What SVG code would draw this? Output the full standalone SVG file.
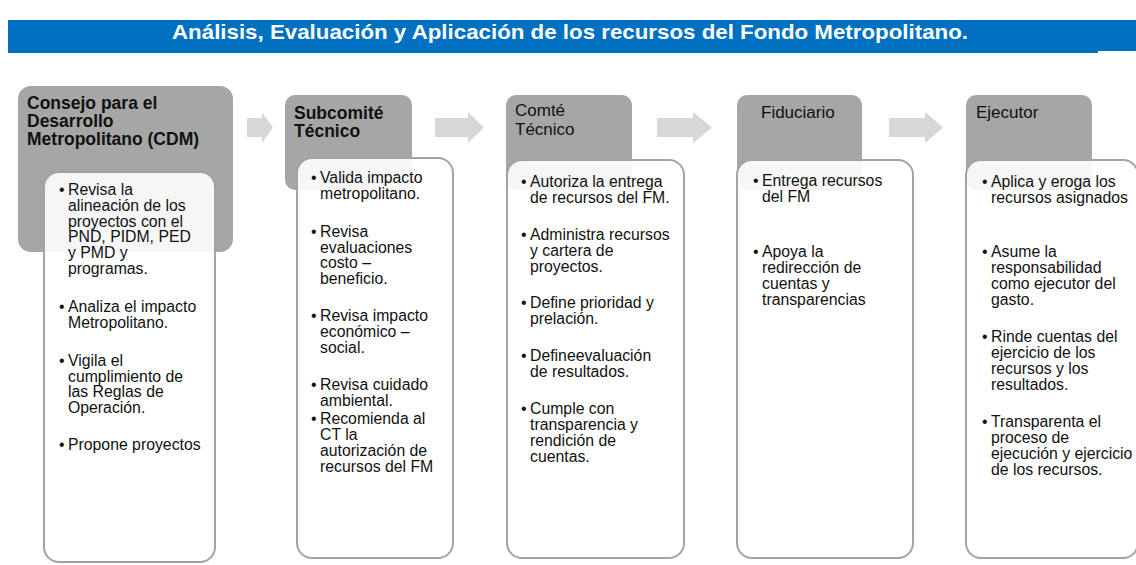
<svg xmlns="http://www.w3.org/2000/svg" width="1136" height="565" viewBox="0 0 1136 565">
<style>
.hdr{fill:#A6A6A6}
.card{fill:#FFFFFF;fill-opacity:0.9;stroke:#A3A3A3;stroke-width:2}
.arrow{fill:#D7D7D7}
.b{font-family:"Liberation Sans",Arial,sans-serif;font-size:15.8px;fill:#111}
.hb{font-family:"Liberation Sans",Arial,sans-serif;font-size:17.5px;font-weight:bold;fill:#111}
.hn{font-family:"Liberation Sans",Arial,sans-serif;font-size:17px;fill:#111}
.title{font-family:"Liberation Sans",Arial,sans-serif;font-size:20.5px;font-weight:bold;fill:#FFFFFF}
</style>
<rect width="1136" height="565" fill="#FFFFFF"/>
<g id="title">
<rect x="8" y="20" width="1128" height="31" fill="#0070C0"/>
<rect x="8" y="50" width="1090" height="3" fill="#0070C0"/>
<text class="title" x="570" y="38.5" text-anchor="middle" textLength="796" lengthAdjust="spacingAndGlyphs">Análisis, Evaluación y Aplicación de los recursos del Fondo Metropolitano.</text>
</g>
<g id="connectors">
<polygon class="arrow" points="247,118 262,118 262,112 273,127.5 262,143 262,137 247,137"/>
<polygon class="arrow" points="435,118 468,118 468,112 484,127.5 468,143 468,137 435,137"/>
<polygon class="arrow" points="657,118 693,118 693,112 712,127.5 693,143 693,137 657,137"/>
<polygon class="arrow" points="889,118 925,118 925,112 943,127.5 925,143 925,137 889,137"/>
</g>
<g id="cdm">
<rect class="hdr" x="18" y="86" width="215" height="166" rx="13"/>
<text class="hb" x="27" y="109">Consejo para el</text>
<text class="hb" x="27" y="127">Desarrollo</text>
<text class="hb" x="27" y="145">Metropolitano (CDM)</text>
<rect class="card" x="44" y="172" width="171" height="390" rx="15"/>
<g class="b">
<text x="59" y="195">•</text>
<text x="68" y="195">Revisa la</text>
<text x="68" y="211">alineación de los</text>
<text x="68" y="226.5">proyectos con el</text>
<text x="68" y="242">PND, PIDM, PED</text>
<text x="68" y="258">y PMD y</text>
<text x="68" y="273.5">programas.</text>
<text x="59" y="312">•</text>
<text x="68" y="312">Analiza el impacto</text>
<text x="68" y="328">Metropolitano.</text>
<text x="59" y="366">•</text>
<text x="68" y="366">Vigila el</text>
<text x="68" y="381.5">cumplimiento de</text>
<text x="68" y="397">las Reglas de</text>
<text x="68" y="413">Operación.</text>
<text x="59" y="450">•</text>
<text x="68" y="450">Propone proyectos</text>
</g>
</g>
<g id="subcomite">
<rect class="hdr" x="285" y="95" width="127" height="95" rx="10"/>
<text class="hb" x="294" y="119">Subcomité</text>
<text class="hb" x="294" y="137">Técnico</text>
<rect class="card" x="297" y="158" width="156" height="400" rx="15"/>
<g class="b">
<text x="311" y="183">•</text>
<text x="320" y="183">Valida impacto</text>
<text x="320" y="199">metropolitano.</text>
<text x="311" y="237">•</text>
<text x="320" y="237">Revisa</text>
<text x="320" y="252.5">evaluaciones</text>
<text x="320" y="268">costo –</text>
<text x="320" y="284">beneficio.</text>
<text x="311" y="321">•</text>
<text x="320" y="321">Revisa impacto</text>
<text x="320" y="337">económico –</text>
<text x="320" y="353">social.</text>
<text x="311" y="390">•</text>
<text x="320" y="390">Revisa cuidado</text>
<text x="320" y="406">ambiental.</text>
<text x="311" y="424">•</text>
<text x="320" y="424">Recomienda al</text>
<text x="320" y="440">CT la</text>
<text x="320" y="456">autorización de</text>
<text x="320" y="472">recursos del FM</text>
</g>
</g>
<g id="comite">
<rect class="hdr" x="506" y="95" width="126" height="95" rx="10"/>
<text class="hn" x="515" y="116">Comté</text>
<text class="hn" x="515" y="135">Técnico</text>
<rect class="card" x="507" y="160" width="177" height="398" rx="15"/>
<g class="b">
<text x="521" y="187">•</text>
<text x="530" y="187">Autoriza la entrega</text>
<text x="530" y="203">de recursos del FM.</text>
<text x="521" y="240">•</text>
<text x="530" y="240">Administra recursos</text>
<text x="530" y="256">y cartera de</text>
<text x="530" y="272">proyectos.</text>
<text x="521" y="308">•</text>
<text x="530" y="308">Define prioridad y</text>
<text x="530" y="324">prelación.</text>
<text x="521" y="361">•</text>
<text x="530" y="361">Defineevaluación</text>
<text x="530" y="377">de resultados.</text>
<text x="521" y="414">•</text>
<text x="530" y="414">Cumple con</text>
<text x="530" y="430">transparencia y</text>
<text x="530" y="446">rendición de</text>
<text x="530" y="462">cuentas.</text>
</g>
</g>
<g id="fiduciario">
<rect class="hdr" x="737" y="95" width="125" height="95" rx="10"/>
<text class="hn" x="761" y="118">Fiduciario</text>
<rect class="card" x="737" y="160" width="176" height="398" rx="15"/>
<g class="b">
<text x="753" y="186">•</text>
<text x="762" y="186">Entrega recursos</text>
<text x="762" y="202">del FM</text>
<text x="753" y="257">•</text>
<text x="762" y="257">Apoya la</text>
<text x="762" y="273">redirección de</text>
<text x="762" y="289">cuentas y</text>
<text x="762" y="305">transparencias</text>
</g>
</g>
<g id="ejecutor">
<rect class="hdr" x="966" y="95" width="126" height="95" rx="10"/>
<text class="hn" x="976" y="118">Ejecutor</text>
<rect class="card" x="966" y="160" width="172" height="398" rx="15"/>
<g class="b">
<text x="982" y="187">•</text>
<text x="991" y="187">Aplica y eroga los</text>
<text x="991" y="203">recursos asignados</text>
<text x="982" y="257">•</text>
<text x="991" y="257">Asume la</text>
<text x="991" y="273">responsabilidad</text>
<text x="991" y="289">como ejecutor del</text>
<text x="991" y="305">gasto.</text>
<text x="982" y="342">•</text>
<text x="991" y="342">Rinde cuentas del</text>
<text x="991" y="358">ejercicio de los</text>
<text x="991" y="374">recursos y los</text>
<text x="991" y="390">resultados.</text>
<text x="982" y="427">•</text>
<text x="991" y="427">Transparenta el</text>
<text x="991" y="443">proceso de</text>
<text x="991" y="459">ejecución y ejercicio</text>
<text x="991" y="475">de los recursos.</text>
</g>
</g>
</svg>
